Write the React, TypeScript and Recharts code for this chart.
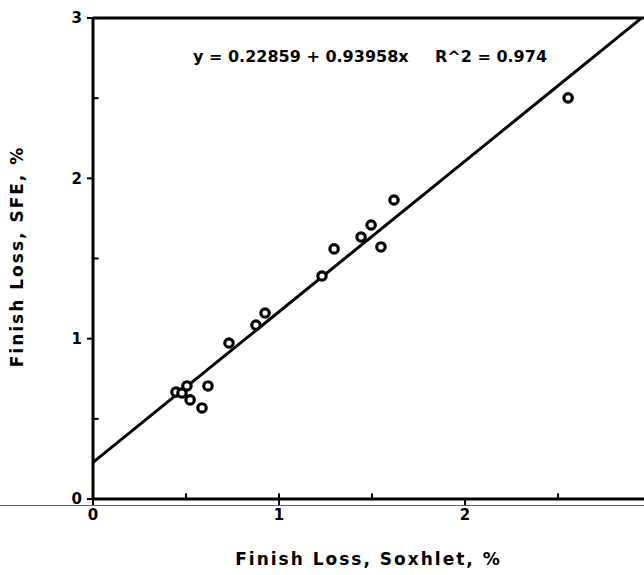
import React from 'react';
import { ScatterChart, Scatter, XAxis, YAxis, ReferenceLine } from 'recharts';

// Finish loss measured by Soxhlet (x) vs SFE (y), in %
const soxhlet = [0.446, 0.478, 0.505, 0.522, 0.618, 0.586, 0.731, 0.876, 0.925, 1.231, 1.296, 1.441, 1.495, 1.548, 1.618, 2.554];
const sfe = [0.667, 0.661, 0.705, 0.618, 0.705, 0.568, 0.973, 1.085, 1.16, 1.391, 1.56, 1.634, 1.709, 1.572, 1.865, 2.502];

// regression reported on the chart
const intercept = 0.22859;
const slope = 0.93958;
const rSquared = 0.974;
const fitX = [0, 2.95];

const xTicks = [0, 1, 2];
const yTicks = [0, 1, 2, 3];
const xMinorTicks = [0.5, 1, 1.5, 2.5];
const yMinorTicks = [0.5, 1.5, 2.5];

const points = soxhlet.map((x, i) => ({ x, y: sfe[i] }));
const fitLine = fitX.map((x) => ({ x, y: intercept + slope * x }));

const FONT = '"DejaVu Sans", "Liberation Sans", Arial, sans-serif';
const tickStyle = { fill: '#000', fontSize: 15, fontWeight: 'bold', fontFamily: FONT };
const titleStyle = { fill: '#000', fontSize: 17, fontWeight: 'bold', fontFamily: FONT, letterSpacing: 2 };

const Ring = (p: any) => (
    <circle cx={p.cx} cy={p.cy} r={4.2} fill="#fff" stroke="#000" strokeWidth={3.2} />
);

const XTitle = (p: any) => {
    const { x, y, width } = p.viewBox;
    return (
        <text x={x + width / 2} y={y + 66} textAnchor="middle" style={titleStyle}>
            Finish  Loss,  Soxhlet,  %
        </text>
    );
};

const YTitle = (p: any) => {
    const { y, height } = p.viewBox;
    const cx = 17;
    const cy = y + height / 2 - 2;
    return (
        <text
            x={cx}
            y={cy}
            transform={`rotate(-90 ${cx} ${cy})`}
            textAnchor="middle"
            dominantBaseline="central"
            style={titleStyle}
        >
            Finish  Loss,  SFE,  %
        </text>
    );
};

export default function App() {
    return (
        <div style={{ position: 'absolute', left: 0, top: 0, width: 644, height: 575, background: '#fff' }}>
            <ScatterChart width={644} height={575} margin={{ top: 18, right: 0, bottom: 0, left: 0 }}>
                <XAxis
                    type="number"
                    dataKey="x"
                    domain={[0, 2.962]}
                    allowDataOverflow
                    ticks={xTicks}
                    height={76}
                    axisLine={{ stroke: '#000', strokeWidth: 3 }}
                    tickLine={{ stroke: '#000', strokeWidth: 2 }}
                    tickSize={6}
                    tickMargin={4}
                    tick={tickStyle}
                    label={{ content: XTitle }}
                />
                <YAxis
                    type="number"
                    dataKey="y"
                    domain={[0, 3]}
                    allowDataOverflow
                    ticks={yTicks}
                    width={93}
                    axisLine={{ stroke: '#000', strokeWidth: 3 }}
                    tickLine={{ stroke: '#000', strokeWidth: 2 }}
                    tickSize={6}
                    tickMargin={5}
                    tick={tickStyle}
                    label={{ content: YTitle }}
                />
                <ReferenceLine y={3} stroke="#000" strokeWidth={3} />
                {xMinorTicks.map((t) => (
                    <ReferenceLine key={'xm' + t} segment={[{ x: t, y: 0 }, { x: t, y: 0.035 }]} stroke="#000" strokeWidth={2} />
                ))}
                {yMinorTicks.map((t) => (
                    <ReferenceLine key={'ym' + t} segment={[{ x: 0, y: t }, { x: 0.03, y: t }]} stroke="#000" strokeWidth={2} />
                ))}
                <Scatter
                    data={fitLine}
                    line={{ stroke: '#000', strokeWidth: 3 }}
                    shape={() => <g />}
                    isAnimationActive={false}
                />
                <Scatter data={points} shape={Ring} isAnimationActive={false} />
            </ScatterChart>
            <div style={{ position: 'absolute', left: 0, top: 505, width: 644, height: 1, background: '#666' }} />
            <div
                style={{
                    position: 'absolute',
                    left: 193,
                    top: 49,
                    fontFamily: FONT,
                    fontWeight: 'bold',
                    fontSize: 16,
                    lineHeight: '16px',
                    whiteSpace: 'pre',
                }}
            >
                {`y = ${intercept} + ${slope}x`}
            </div>
            <div
                style={{
                    position: 'absolute',
                    left: 435,
                    top: 49,
                    fontFamily: FONT,
                    fontWeight: 'bold',
                    fontSize: 16,
                    lineHeight: '16px',
                    whiteSpace: 'pre',
                }}
            >
                {`R^2 = ${rSquared}`}
            </div>
        </div>
    );
}
